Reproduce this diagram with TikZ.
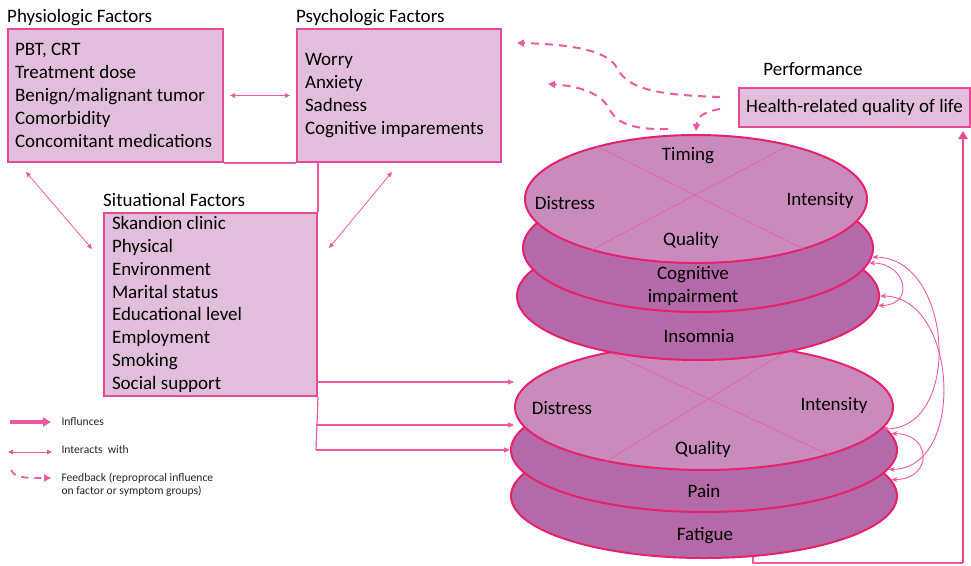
\documentclass[tikz,border=0pt]{standalone}
\usepackage{fontspec}
\setmainfont{Carlito}
\usetikzlibrary{shapes.geometric,arrows.meta}
\definecolor{boxfill}{RGB}{225,190,220}
\definecolor{boxline}{RGB}{232,72,150}
\definecolor{ringline}{RGB}{232,32,110}
\definecolor{disktop}{RGB}{200,139,188}
\definecolor{disklayer}{RGB}{180,106,168}
\definecolor{linkpink}{RGB}{236,90,160}
\newcommand{\bigtext}{\fontsize{19}{22.8}\selectfont}
\newcommand{\smalltext}{\fontsize{11.6}{13.4}\selectfont}

\begin{document}
\begin{tikzpicture}[x=1pt, y=-1pt, font=\bigtext,
    factor/.style={draw=boxline, fill=boxfill, line width=2pt, align=flush left, anchor=north west, inner xsep=8pt, inner ysep=0pt},
    title/.style={anchor=base west, inner sep=0pt},
    disk/.style={ellipse, draw=ringline, line width=2pt, inner sep=0pt},
    cross/.style={linkpink, line width=0.6pt},
    influence/.style={linkpink, line width=1.2pt, -{Triangle[length=6pt,width=5pt]}},
    interact/.style={linkpink, line width=0.8pt, {Triangle[length=5pt,width=4.5pt]}-{Triangle[length=5pt,width=4.5pt]}},
    feedback/.style={linkpink, line width=2pt, dash pattern=on 8pt off 6pt, -{Triangle[length=7pt,width=7pt]}},
    symlink/.style={linkpink, line width=0.9pt, {Stealth[length=6pt,width=5pt]}-{Stealth[length=6pt,width=5pt]}}]
    \useasboundingbox (0,0) rectangle (971,565);

    \node[title] (physT) at (7,22) {Physiologic Factors};
    \node[factor, inner xsep=7pt, minimum width=215pt, minimum height=133pt, text width=201pt] (phys) at (7,28)
        {PBT, CRT\\Treatment dose\\Benign/malignant tumor\\Comorbidity\\Concomitant medications};
    \node[title] (psychT) at (296,22) {Psychologic Factors};
    \node[factor, minimum width=204pt, minimum height=133pt, text width=188pt] (psych) at (296,28)
        {Worry\\Anxiety\\Sadness\\Cognitive imparements};
    \node[title] (sitT) at (103,206) {Situational Factors};
    \node[factor, minimum width=213pt, minimum height=183pt, text width=197pt] (sit) at (103,212)
        {Skandion clinic\\Physical\\Environment\\Marital status\\Educational level\\Employment\\Smoking\\Social support};
    \node (perfT) at (813,69) {Performance};
    \node[factor, align=center, inner xsep=4pt, minimum width=231pt, minimum height=39pt] (hrq) at (738,87)
        {Health-related quality of life};

    \draw[interact, shorten <=6pt, shorten >=6pt] (phys.east) -- (psych.west);
    \draw[interact] ([xshift=19pt,yshift=-9pt]phys.south west) -- ([xshift=-11pt,yshift=-37pt]sit.north west);
    \draw[interact] ([xshift=96pt,yshift=-9pt]psych.south west) -- ([xshift=11pt,yshift=-36pt]sit.north east);

    \node[disk, fill=disklayer, minimum width=386pt, minimum height=124pt] (fat) at (704,496) {};
    \node[disk, fill=disklayer, minimum width=386pt, minimum height=124pt] (pain) at (704,450) {};
    \node[disk, fill=disktop, minimum width=378pt, minimum height=126pt] (top2) at (704,407) {};
    \draw[cross] (top2.150) -- (top2.-21);
    \draw[cross] (top2.34) -- (top2.209);
    \node[disk, fill=disklayer, minimum width=362pt, minimum height=128pt] (ins) at (698,296) {};
    \node[disk, fill=disklayer, minimum width=350pt, minimum height=128pt] (cog) at (698,248) {};
    \node[disk, fill=disktop, minimum width=342pt, minimum height=128pt] (top1) at (696,199) {};
    \draw[cross] (top1.152) -- (top1.-25);
    \draw[cross] (top1.30) -- (top1.206);

    \node (t1a) at (688,156) {Timing};
    \node (t1b) at (565,203) {Distress};
    \node (t1c) at (820,200) {Intensity};
    \node (t1d) at (691,240) {Quality};
    \node[align=center, inner sep=0pt] (cogT) at (693,286) {Cognitive\\impairment};
    \node (insT) at (699,336) {Insomnia};
    \node (t2b) at (562,408) {Distress};
    \node (t2c) at (834,405) {Intensity};
    \node (t2d) at (703,449) {Quality};
    \node (painT) at (704,491) {Pain};
    \node (fatT) at (705,536) {Fatigue};

    \coordinate (tr0) at (sit.north east |- psych.south);
    \coordinate (tr1) at (316,382);
    \coordinate (tr2) at (316,425);
    \coordinate (tr3) at (316,450);
    \draw[linkpink, line width=1.2pt] (phys.south east) -- (psych.south west);
    \draw[linkpink, line width=1.2pt] (tr0) -- (sit.north east);
    \draw[linkpink, line width=1.2pt] (sit.south east) -- (tr3);
    \draw[influence] (tr1) -- (tr1 -| top2.west);
    \draw[influence] (tr2) -- (tr2 -| top2.west);
    \draw[influence] (tr3) -- (tr3 -| pain.west);

    \draw[symlink] (cog.-3) to[out=0, in=0, looseness=1.2] (top2.-7);
    \draw[symlink] (ins.0) to[out=0, in=0, looseness=1.15] (pain.-6);
    \draw[symlink] (cog.-5) to[out=0, in=0, looseness=2.2] (ins.-3);
    \draw[symlink] (pain.5) to[out=0, in=0, looseness=2.3] (fat.5);

    \coordinate (fbA1) at (720,97);
    \coordinate (fbA2) at (517,43);
    \coordinate (fbB1) at (720,109);
    \coordinate (fbB2) at (696,131);
    \coordinate (fbC1) at (668,129);
    \coordinate (fbC2) at (548,84);
    \draw[feedback] (fbA1) .. controls (660,95) and (628,90) .. (617,68) .. controls (607,48) and (560,44) .. (fbA2);
    \draw[feedback] (fbB1) .. controls (702,112) and (697,118) .. (fbB2);
    \draw[feedback] (fbC1) .. controls (625,130) and (615,120) .. (608,107) .. controls (601,94) and (580,86) .. (fbC2);

    \coordinate (perf0) at (753,557);
    \coordinate (perf1) at (963,563);
    \draw[linkpink, line width=1.2pt] (perf0) |- (perf1);
    \draw[boxline, line width=2.8pt, shorten >=3pt, -{Triangle[length=8pt,width=9pt]}] (perf1) -- (perf1 |- hrq.south);

    \coordinate (lgA1) at (10,422);
    \coordinate (lgA2) at (51,422);
    \coordinate (lgB1) at (8,452);
    \coordinate (lgB2) at (52,452);
    \coordinate (lgC1) at (11,470);
    \coordinate (lgC2) at (51,478);
    \draw[linkpink, line width=3.5pt, -{Triangle[length=8pt,width=9pt]}] (lgA1) -- (lgA2);
    \draw[interact] (lgB1) -- (lgB2);
    \draw[feedback, line width=1.8pt, dash pattern=on 7pt off 6pt] (lgC1) .. controls (15,478) and (25,478) .. (lgC2);
    \node[anchor=west, font=\smalltext, text=black!85] (lgA) at (58,422) {Influnces};
    \node[anchor=west, font=\smalltext, text=black!85] (lgB) at (58,450) {Interacts\ \ with};
    \node[anchor=west, align=left, font=\smalltext, text=black!85] (lgC) at (58,485) {Feedback (reproprocal influence\\on factor or symptom groups)};
\end{tikzpicture}
\end{document}
